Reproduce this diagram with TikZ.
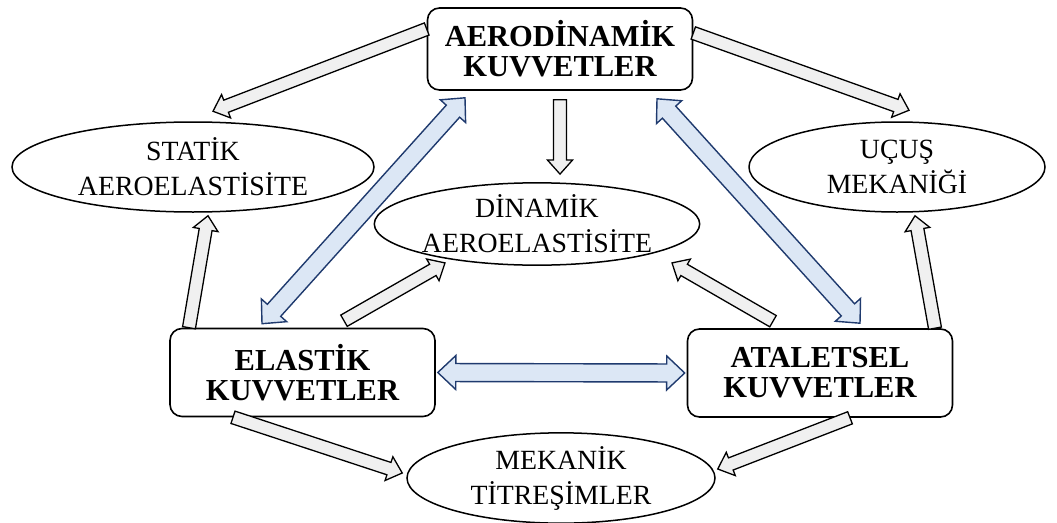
\documentclass[tikz,border=0pt]{standalone}
\usepackage{fontspec}
\setmainfont{Liberation Serif}
\usetikzlibrary{shapes.geometric,calc}
\definecolor{arrowblue}{HTML}{DCE7F5}
\definecolor{arrowline}{HTML}{1F3A6E}
\begin{document}
\begin{tikzpicture}[
            x=1pt, y=-1pt,
            half shaft/.store in=\halfshaft, half head/.store in=\halfhead, head len/.store in=\headlen,
            half shaft=6.5pt, half head=12.5pt, head len=14pt,
            box/.style = {shape=rectangle, rounded corners=12pt, draw, line width=1.6pt, align=center,
                          minimum width=265pt, minimum height=88pt, font=\fontsize{30.5}{30}\selectfont\bfseries},
            oval/.style = {shape=ellipse, draw, line width=1.5pt, inner sep=0pt, align=center,
                          font=\fontsize{27.8}{35}\selectfont},
            fat/.style = {draw=black, fill=gray!12, line width=1.3pt,
                to path={let \p1=(\tikztostart), \p2=(\tikztotarget), \n1={atan2(\y2-\y1,\x2-\x1)} in
                    ($(\p1)+({\n1+90}:\halfshaft)$)
                    -- ($(\p2)+({\n1+180}:\headlen)+({\n1+90}:\halfshaft)$)
                    -- ($(\p2)+({\n1+180}:\headlen)+({\n1+90}:\halfhead)$)
                    -- (\p2)
                    -- ($(\p2)+({\n1+180}:\headlen)+({\n1-90}:\halfhead)$)
                    -- ($(\p2)+({\n1+180}:\headlen)+({\n1-90}:\halfshaft)$)
                    -- ($(\p1)+({\n1-90}:\halfshaft)$) -- cycle}},
            fatboth/.style = {draw=arrowline, fill=arrowblue, line width=1.4pt,
                half shaft=9pt, half head=17pt, head len=18pt,
                to path={let \p1=(\tikztostart), \p2=(\tikztotarget), \n1={atan2(\y2-\y1,\x2-\x1)} in
                    (\p1)
                    -- ($(\p1)+({\n1}:\headlen)+({\n1+90}:\halfhead)$)
                    -- ($(\p1)+({\n1}:\headlen)+({\n1+90}:\halfshaft)$)
                    -- ($(\p2)+({\n1+180}:\headlen)+({\n1+90}:\halfshaft)$)
                    -- ($(\p2)+({\n1+180}:\headlen)+({\n1+90}:\halfhead)$)
                    -- (\p2)
                    -- ($(\p2)+({\n1+180}:\headlen)+({\n1-90}:\halfhead)$)
                    -- ($(\p2)+({\n1+180}:\headlen)+({\n1-90}:\halfshaft)$)
                    -- ($(\p1)+({\n1}:\headlen)+({\n1-90}:\halfshaft)$)
                    -- ($(\p1)+({\n1}:\headlen)+({\n1-90}:\halfhead)$) -- cycle}}
        ]
        \useasboundingbox (0,0) rectangle (1057,522);
        \node[box, minimum height=82pt] (aero) at (560,49) {AERODİNAMİK\\KUVVETLER};
        \node[box] (elas) at (302.5,372.5) {ELASTİK\\KUVVETLER};
        \node[box] (atal) at (820,373) {ATALETSEL\\KUVVETLER};
        \node[oval, minimum width=362pt, minimum height=90pt] (statik) at (193,167) {STATİK\\AEROELASTİSİTE};
        \node[oval, minimum width=310pt, minimum height=82pt] (dina) at (537,224) {DİNAMİK\\AEROELASTİSİTE};
        \node[oval, minimum width=296pt, minimum height=90pt] (ucus) at (897,167) {UÇUŞ\\MEKANİĞİ};
        \node[oval, minimum width=308pt, minimum height=86pt] (meka) at (561,478) {MEKANİK\\TİTREŞİMLER};

        \draw[fat] ([yshift=20pt]aero.west) to ([shift={(20pt,10pt)}]statik.north);
        \draw[fat] ([yshift=16pt]aero.east) to ([shift={(12pt,11pt)}]ucus.north);
        \draw[fat] ([yshift=-9pt]aero.south) to ([shift={(23pt,8pt)}]dina.north);
        \draw[fat] ([xshift=-113.5pt]elas.north) to ([shift={(15pt,-3pt)}]statik.south);
        \draw[fat] ([xshift=115pt]atal.north) to ([shift={(18pt,-3pt)}]ucus.south);
        \draw[fat] ([shift={(41.5pt,7pt)}]elas.north) to ([shift={(-92pt,3pt)}]dina.south);
        \draw[fat] ([shift={(-47pt,7pt)}]atal.north) to ([shift={(135pt,3pt)}]dina.south);
        \draw[fat] ([xshift=-69.5pt]elas.south) to ([shift={(-4pt,5pt)}]meka.west);
        \draw[fat] ([xshift=30pt]atal.south) to ([shift={(2pt,9pt)}]meka.east);
        \draw[fatboth] ([shift={(-40.5pt,4pt)}]elas.north) to ([shift={(-95pt,-7pt)}]aero.south);
        \draw[fatboth] ([shift={(40pt,5pt)}]atal.north) to ([shift={(97pt,-8pt)}]aero.south);
        \draw[fatboth] ([xshift=2pt]elas.east) to ([xshift=-2pt]atal.west);
    \end{tikzpicture}
\end{document}
